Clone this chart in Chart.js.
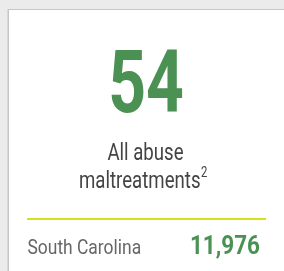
<!DOCTYPE html>
<html lang="en">
<head>
    <meta charset="UTF-8">
    <script src="https://cdn.jsdelivr.net/npm/chart.js@4"></script>
    <title>All abuse maltreatments</title>
    <style>
        html, body { margin: 0; padding: 0; }
        body { background: #ebebeb; width: 284px; height: 271px; overflow: hidden; position: relative; }
        #card {
            position: absolute; left: 8px; top: 9px; width: 300px; height: 300px;
            background: #fff; border: 1px solid #c6c6c6;
            box-shadow: -1px 0 0 #d8d8d8;
        }
        #myChart { position: absolute; left: 0; top: 0; }
    </style>
</head>
<body>
    <div id="card"></div>
    <canvas id="myChart" width="284" height="271"></canvas>
    <script>
    var headlineValues = [54];
    var headlineLabels = ['All abuse', 'maltreatments'];
    var footnoteMarks = ['2'];
    var regionNames = ['South Carolina'];
    var regionValues = [11976];

    var green = '#4a9153';

    // condensed text helper: scale x around the anchor point
    function narrowText(c, txt, x, y, sx) {
        c.save();
        c.translate(x, y);
        c.scale(sx, 1);
        c.fillText(txt, 0, 0);
        var w = c.measureText(txt).width * sx;
        c.restore();
        return w;
    }

    // draws the stat card texts on the chart canvas
    var statCard = {
        id: 'statCard',
        afterDraw: function(chart) {
            var c = chart.ctx;
            c.save();
            c.textBaseline = 'alphabetic';

            // big number
            c.fillStyle = green;
            c.font = 'bold 88px Roboto';
            c.textAlign = 'center';
            narrowText(c, String(headlineValues[0]), 146, 112, 0.75);

            // label lines
            c.fillStyle = '#444';
            c.font = '23px Roboto';
            narrowText(c, headlineLabels[0], 145.5, 160, 0.81);
            c.textAlign = 'left';
            var w = c.measureText(headlineLabels[1]).width * 0.81;
            var left = 79;
            narrowText(c, headlineLabels[1], left, 188, 0.81);
            c.font = '14px Roboto';
            narrowText(c, footnoteMarks[0], left + w + 0.5, 177, 0.81);

            // rule
            c.strokeStyle = '#d4e11c';
            c.lineWidth = 2;
            c.beginPath();
            c.moveTo(27, 219);
            c.lineTo(266, 219);
            c.stroke();

            // region row
            c.fillStyle = '#666';
            c.font = '21px Roboto';
            c.textAlign = 'left';
            narrowText(c, regionNames[0], 27.5, 254, 0.83);

            c.fillStyle = green;
            c.font = 'bold 25px Roboto';
            c.textAlign = 'right';
            narrowText(c, regionValues[0].toLocaleString('en-US'), 260, 254, 0.9);

            c.restore();
        }
    };

    var ctx = document.getElementById('myChart');
    new Chart(ctx, {
        type: 'bar',
        data: {
            labels: regionNames,
            datasets: [{ label: headlineLabels.join(' '), data: regionValues, backgroundColor: 'rgba(0,0,0,0)' }]
        },
        options: {
            responsive: false,
            animation: false,
            events: [],
            plugins: { legend: { display: false }, tooltip: { enabled: false } },
            scales: { x: { display: false }, y: { display: false } }
        },
        plugins: [statCard]
    });
    </script>
</body>
</html>
